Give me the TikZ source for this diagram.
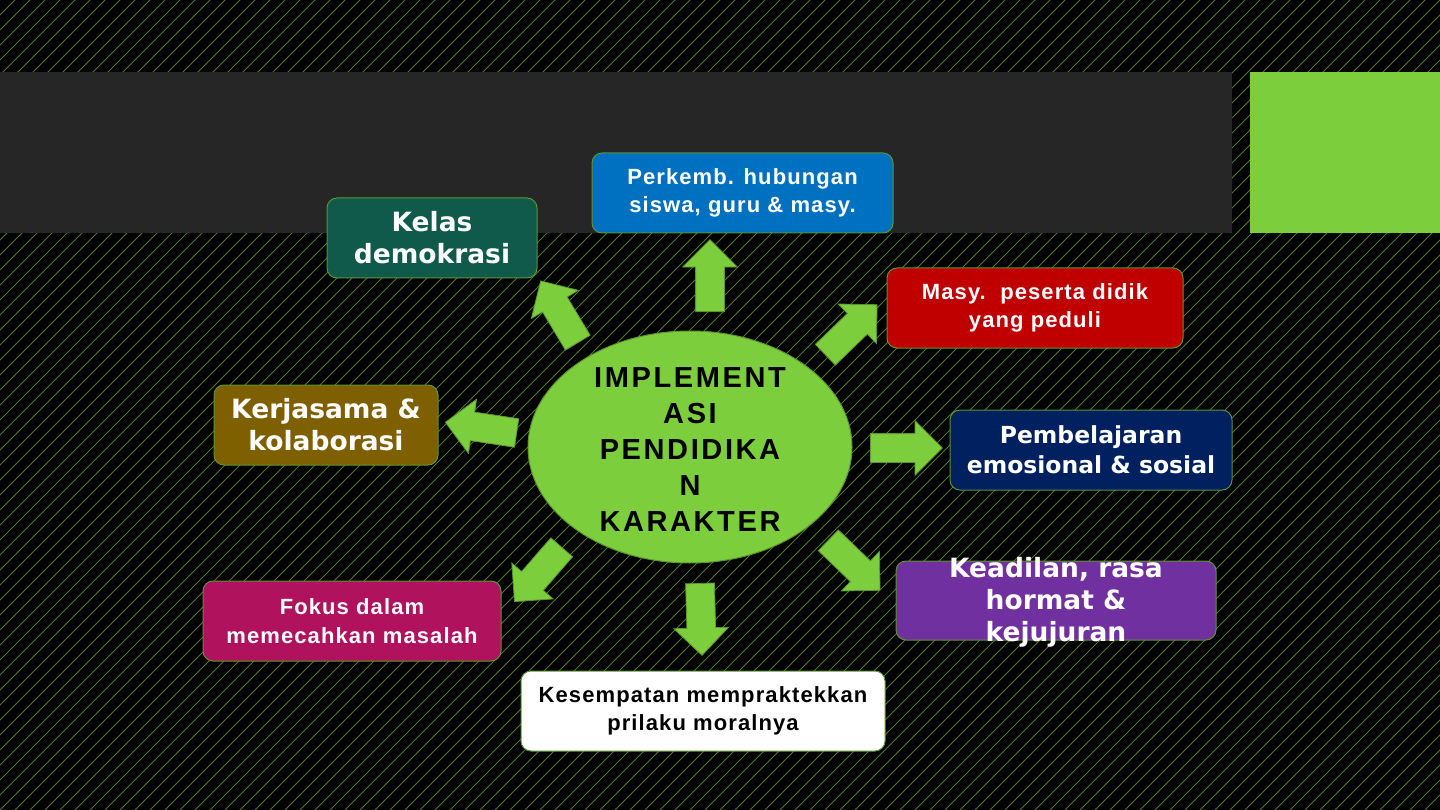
\documentclass[tikz,border=0pt]{standalone}
\usepackage{fontspec}
\setmainfont{Liberation Sans}
\newfontfamily\dvs{DejaVu Sans}
\newfontfamily\lsb[LetterSpace=5]{Liberation Sans}
\newfontfamily\lsc[LetterSpace=9]{Liberation Sans}
\usetikzlibrary{shapes.geometric,shapes.arrows}
\definecolor{cStripe}{RGB}{80,120,40}
\definecolor{cBand}{RGB}{38,38,38}
\definecolor{cLime}{RGB}{125,206,60}
\definecolor{cLimeD}{RGB}{90,150,45}
\definecolor{cTeal}{RGB}{16,90,76}
\definecolor{cBlue}{RGB}{0,112,192}
\definecolor{cRed}{RGB}{192,0,0}
\definecolor{cBrown}{RGB}{127,96,0}
\definecolor{cNavy}{RGB}{0,32,96}
\definecolor{cPurple}{RGB}{112,48,160}
\definecolor{cMag}{RGB}{176,18,94}

\begin{document}
\begin{tikzpicture}[x=1pt,y=-1pt,
   b/.style={draw=cLimeD,line width=1pt,rounded corners=10pt,align=center,text=white,inner sep=0pt,minimum height=80pt},
   f1/.style={font=\lsb\bfseries\fontsize{22}{28.5}\selectfont},
   f2/.style={font=\dvs\bfseries\fontsize{26.5}{32}\selectfont},
   a/.style={single arrow,draw=cLimeD,fill=cLime,line width=0.8pt,inner xsep=0pt,inner ysep=14pt,
             single arrow head extend=13pt,minimum height=72pt,anchor=tail}]
  \useasboundingbox (0,0) rectangle (1440,810);
  % background
  \fill[black] (0,0) rectangle (1440,810);
  \begin{scope}
    \clip (0,0) rectangle (1440,810);
    \foreach \i in {-810,-795,...,1440} \draw[cStripe,line width=1pt] (\i,810) -- ++(810,-810);
  \end{scope}
  \fill[cBand] (0,72) rectangle (1232,233);
  \fill[cLime] (1250,72) rectangle (1440,233);
  % centre
  \node[ellipse,fill=cLime,draw=cLimeD,line width=1pt,minimum width=324pt,minimum height=232pt] (c) at (690,447) {};
  \node[align=center,font=\lsc\bfseries\fontsize{29}{36}\selectfont] (ct) at (690,450) {IMPLEMENT\\ASI\\PENDIDIKA\\N\\KARAKTER};
  % boxes
  \node[b,f2,fill=cTeal,minimum width=210pt]   (kd) at (432,238)   {Kelas\\demokrasi};
  \node[b,f1,fill=cBlue,minimum width=301pt]   (ph) at (742.5,193) {Perkemb. hubungan\\siswa, guru \& masy.};
  \node[b,f1,fill=cRed,minimum width=296pt]    (mp) at (1035,308)  {Masy.\ \ peserta didik\\yang peduli};
  \node[b,f2,fill=cBrown,minimum width=224pt]  (kk) at (326,425)   {Kerjasama \&\\kolaborasi};
  \node[b,fill=cNavy,minimum width=282pt,font=\dvs\bfseries\fontsize{23.5}{30}\selectfont]
                                               (pe) at (1091,450)  {Pembelajaran\\emosional \& sosial};
  \node[b,fill=cPurple,minimum width=320pt,minimum height=79pt] (kh) at (1056,600.5) {};
  \node[f2,align=center,text=white] (kht) at (1056,602) {Keadilan, rasa\\hormat \&\\kejujuran};
  \node[b,f1,fill=cMag,minimum width=298pt]    (fm) at (352,621)   {Fokus dalam\\memecahkan masalah};
  \node[b,f1,fill=white,text=black,minimum width=364pt] (km) at (703,711) {Kesempatan mempraktekkan\\prilaku moralnya};
  % arrows
  \node[a,rotate=90]    (aU)  at (710,312) {};
  \node[a,rotate=121]   (aUL) at (578,343) {};
  \node[a,rotate=44]    (aUR) at (825,355) {};
  \node[a,rotate=171.5] (aL)  at (517,433) {};
  \node[a,rotate=0]     (aR)  at (870,448) {};
  \node[a,rotate=229]   (aDL) at (562,547) {};
  \node[a,rotate=-88.4] (aD)  at (700,583) {};
  \node[a,rotate=-44]   (aDR) at (828,540) {};
\end{tikzpicture}
\end{document}
